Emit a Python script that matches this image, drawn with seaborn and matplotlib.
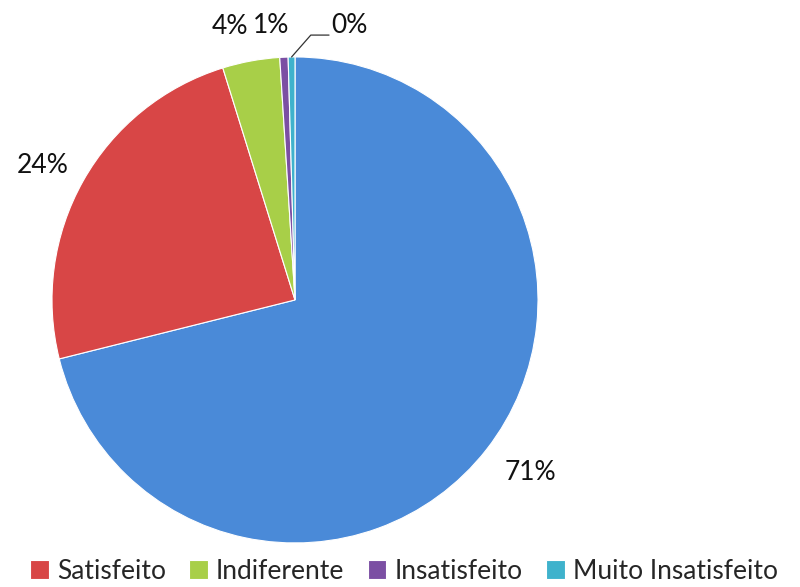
import numpy as np
import matplotlib
matplotlib.use("Agg")
import matplotlib.pyplot as plt
import seaborn as sns

# data
categories = ["Muito Satisfeito", "Satisfeito", "Indiferente", "Insatisfeito", "Muito Insatisfeito"]
values = [71.1, 24.1, 3.8, 0.55, 0.45]
pct_labels = ["71%", "24%", "4%", "1%", "0%"]
legend_names = ["Satisfeito", "Indiferente", "Insatisfeito", "Muito Insatisfeito"]
colors = ["#4a8ad8", "#d84646", "#a8cf48", "#7b4fa3", "#3fb2cc"]

sns.set_theme(style="white")
plt.rcParams["font.family"] = ["Lato", "DejaVu Sans"]

fig = plt.figure(figsize=(8, 5.87), dpi=100)
ax = fig.add_axes([0.065, 0.075, 0.6075, 0.828])

wedges, _ = ax.pie(
    values,
    colors=colors,
    startangle=90,
    counterclock=False,
    wedgeprops=dict(edgecolor="white", linewidth=0.8),
)
ax.set_xlim(-1, 1)
ax.set_ylim(-1, 1)
ax.set_aspect("equal")
ax.axis("off")

# percentage labels
label_pos = [(0.97, -0.71), (-1.04, 0.555), (-0.267, 1.125), (-0.10, 1.13), (0.225, 1.13)]
for txt, (x, y) in zip(pct_labels, label_pos):
    ax.text(x, y, txt, fontsize=19, color="#111111", ha="center", va="center",
            clip_on=False)

# leader line for the 0% label
w = wedges[4]
mid = np.deg2rad((w.theta1 + w.theta2) / 2)
x0, y0 = np.cos(mid) * 1.0, np.sin(mid) * 1.0
ax.plot([x0, 0.065, 0.14], [y0, 1.09, 1.09], color="#333333", lw=0.9, clip_on=False)

# legend without the first category
handles = wedges[1:]
fig.legend(handles, legend_names, loc="lower center", ncol=4,
           bbox_to_anchor=(0.505, -0.035), frameon=False, fontsize=19,
           handlelength=0.7, handleheight=0.7, handletextpad=0.3,
           columnspacing=0.9)

fig.savefig("out.png", dpi=100)
